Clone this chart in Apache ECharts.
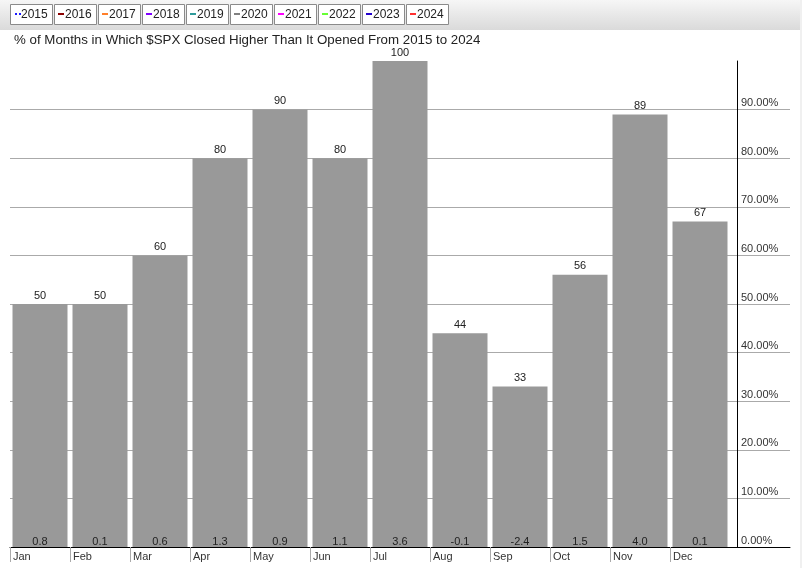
<!DOCTYPE html>
<html>
<head>
<meta charset="utf-8">
<script src="https://cdn.jsdelivr.net/npm/echarts@6/dist/echarts.min.js"></script>
<style>
html,body{margin:0;padding:0;background:#fff;}
#chart{width:802px;height:568px;}
</style>
</head>
<body>
<div id="chart"></div>
<script>
var months = ['Jan','Feb','Mar','Apr','May','Jun','Jul','Aug','Sep','Oct','Nov','Dec'];
var pctHigher = [50, 50, 60, 80, 90, 80, 100, 44, 33, 56, 89, 67];
var avgReturn = [0.8, 0.1, 0.6, 1.3, 0.9, 1.1, 3.6, -0.1, -2.4, 1.5, 4.0, 0.1];
var legendYears = ['2015','2016','2017','2018','2019','2020','2021','2022','2023','2024'];
var legendColors = ['#1a1aff','#8b0000','#ff7f2a','#8000ff','#2e9a9a','#808080','#ff00ff','#66ff33','#2200cc','#ff3030'];
var yTicks = [0,10,20,30,40,50,60,70,80,90,100];

var chart = echarts.init(document.getElementById('chart'), null, {renderer:'canvas'});
var FONT = 'Liberation Sans, Arial, sans-serif';

var graphics = [
  {type:'rect', shape:{x:0,y:0,width:800,height:30}, z:-1,
   style:{fill:new echarts.graphic.LinearGradient(0,0,0,1,[{offset:0,color:'#f6f6f6'},{offset:1,color:'#dadada'}])}},
  {type:'rect', shape:{x:800,y:0,width:2,height:568}, style:{fill:'#f0f0f0'}}
];
legendYears.forEach(function(yr, i){
  var x = 10 + 44*i;
  graphics.push({type:'rect', shape:{x:x+0.5,y:4.5,width:42,height:20}, style:{fill:'#ffffff', stroke:'#8a8a8a', lineWidth:1}});
  if (i === 0) {
    graphics.push({type:'rect', shape:{x:x+5,y:13,width:2,height:2}, style:{fill:legendColors[i]}});
    graphics.push({type:'rect', shape:{x:x+9,y:13,width:2,height:2}, style:{fill:legendColors[i]}});
  } else {
    graphics.push({type:'rect', shape:{x:x+4,y:13,width:6,height:2}, style:{fill:legendColors[i]}});
  }
  graphics.push({type:'text', x:x+11, y:15, style:{text:yr, font:'12px '+FONT, fill:'#222', textVerticalAlign:'middle'}});
});

var splitColors = yTicks.map(function(v){ return v === 100 ? 'rgba(0,0,0,0)' : '#aaaaaa'; });
var xTickIdx = months.map(function(m,i){ return i; });

chart.setOption({
  animation:false,
  backgroundColor:'#ffffff',
  title:{text:'% of Months in Which $SPX Closed Higher Than It Opened From 2015 to 2024', left:9, top:29,
    textStyle:{fontFamily:FONT, fontSize:13.3, fontWeight:'normal', color:'#222'}},
  graphic:graphics,
  grid:{left:10, right:12, top:61, bottom:21},
  xAxis:[
    {type:'category', data:months.concat(['']), boundaryGap:true,
     axisLine:{show:true, onZero:false, lineStyle:{color:'#000', width:1}},
     axisTick:{show:false}, axisLabel:{show:false}, splitLine:{show:false}},
    {type:'value', min:0, max:13, interval:1, position:'bottom',
     axisLine:{show:false, onZero:false}, splitLine:{show:false},
     axisTick:{show:true, customValues:xTickIdx, length:15, lineStyle:{color:'#aaaaaa'}},
     axisLabel:{show:true, customValues:xTickIdx, align:'left', margin:4, padding:[0,0,0,3],
       fontFamily:FONT, fontSize:11, color:'#333',
       formatter:function(v){ return months[v] || ''; }}}
  ],
  yAxis:{type:'value', min:0, max:100, interval:10, position:'right', offset:-53,
    axisLine:{show:true, onZero:false, lineStyle:{color:'#000', width:1}},
    axisTick:{show:false},
    splitLine:{show:true, lineStyle:{color:splitColors, width:1}},
    axisLabel:{show:true, margin:4, verticalAlign:'bottom', padding:[0,0,1,0],
      fontFamily:FONT, fontSize:11, color:'#333',
      formatter:function(v){ return v === 100 ? '' : v.toFixed(2) + '%'; }}},
  series:[
    {type:'bar', xAxisIndex:0, data:pctHigher, barWidth:55, itemStyle:{color:'#999999'},
     label:{show:true, position:'top', distance:3, fontFamily:FONT, fontSize:11, color:'#222'}},
    {type:'bar', xAxisIndex:0, data:pctHigher, barWidth:55, barGap:'-100%', z:3,
     itemStyle:{color:'rgba(0,0,0,0)'},
     label:{show:true, position:'insideBottom', distance:0, fontFamily:FONT, fontSize:11, color:'#222',
       formatter:function(p){ return avgReturn[p.dataIndex].toFixed(1); }}}
  ]
});
</script>
</body>
</html>
